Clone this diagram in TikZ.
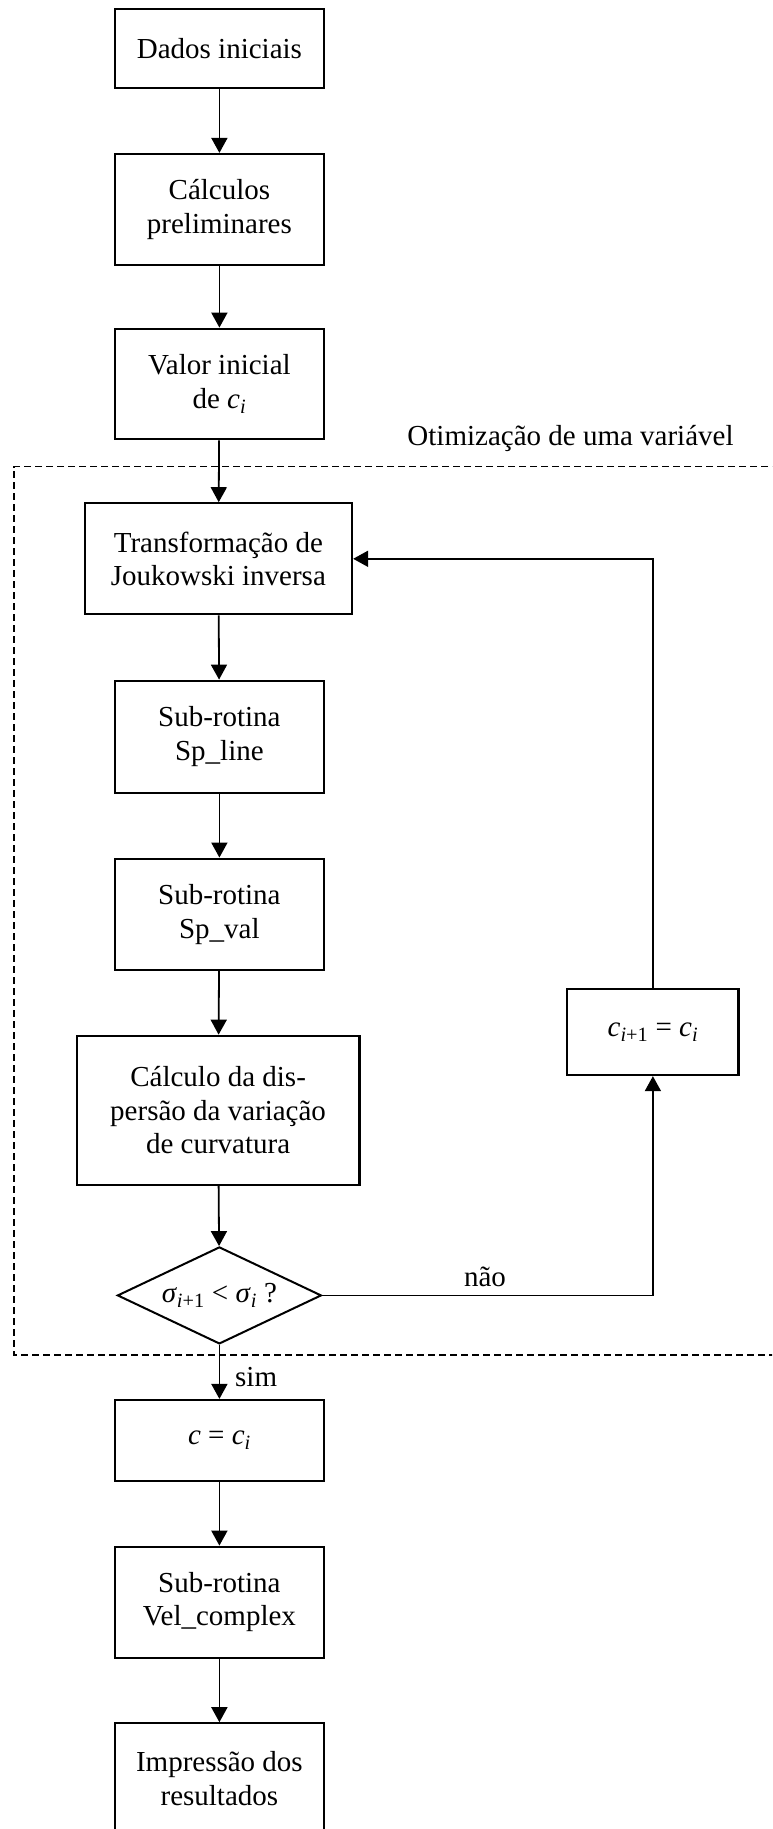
\documentclass[tikz,border=0pt]{standalone}
\usepackage{fontspec}
\setmainfont{Liberation Serif}
\usetikzlibrary{arrows.meta,shapes.geometric}
\tikzset{
  box/.style={draw, line width=2.2pt, minimum width=209pt, minimum height=111pt, align=center, inner sep=0pt},
  flow/.style={line width=1.8pt, -{Triangle[length=15pt,width=16pt]}},
  grp/.style={line width=1.5pt, dash pattern=on 7pt off 4pt},
  lbl/.style={inner sep=0pt}
}
\newcommand{\ci}{\textit{c}\textsubscript{\textit{i}}}
\begin{document}
\begin{tikzpicture}[x=1pt, y=-1pt, font=\fontsize{29}{33.5}\selectfont]
\useasboundingbox (0,0) rectangle (772,1829);
\clip (0,0) rectangle (772,1829);
% group frame
\draw[grp] (790,466.5) -- (13.8,466.5) -- (13.8,1355) -- (790,1355);
\node[lbl, anchor=base] (grplbl) at (570.5,445) {Otimização de uma variável};
% nodes
\node[box, minimum height=79pt] (dados) at (219.4,48.7) {Dados iniciais};
\node[box] (calc) at (219.4,209.5) {Cálculos\\preliminares};
\node[box, minimum height=110.6pt] (valor) at (219.4,384) {Valor inicial\\de \ci};
\node[box, minimum width=267.3pt] (trans) at (218.4,558.8) {Transformação de\\Joukowski inversa};
\node[box, minimum height=112pt] (spline) at (219.4,736.7) {Sub-rotina\\Sp\_line};
\node[box, minimum height=111.3pt] (spval) at (219.4,914.3) {Sub-rotina\\Sp\_val};
\node[box, minimum width=282.6pt, minimum height=149.3pt] (calcd) at (218.1,1110.4) {Cálculo da dis-\\persão da variação\\de curvatura};
\node[diamond, draw, line width=2pt, minimum width=204pt, minimum height=97pt, inner sep=0pt,
      label={center:{\textit{σ}\textsubscript{\textit{i}+1} < \textit{σ}\textsubscript{\textit{i}} ?}}] (dia) at (219.4,1295.4) {};
\node[box, minimum width=171.3pt, minimum height=86.3pt] (cbox) at (652.9,1031.9) {\textit{c}\textsubscript{\textit{i}+1} = \ci};
\node[box, minimum height=81pt] (cc) at (219.4,1440.5) {\textit{c} = \ci};
\node[box] (vel) at (219.4,1602.2) {Sub-rotina\\Vel\_complex};
\node[box] (imp) at (219.4,1778.8) {Impressão dos\\resultados};
% connectors
\draw[flow] (dados) -- (calc);
\draw[flow] (calc) -- (valor);
\draw[flow] (valor) -- (trans);
\draw[flow] (trans) -- (spline);
\draw[flow] (spline) -- (spval);
\draw[flow] (spval) -- (calcd);
\draw[flow] (calcd) -- (dia);
\draw[flow] (dia.east) -| (cbox.south);
\draw[flow] (cbox.north) |- (trans.east);
\draw[flow] (dia.south) -- (cc.north);
\draw[flow] (cc) -- (vel);
\draw[flow] (vel) -- (imp);
% labels
\node[lbl] (nao) at (485,1277) {não};
\node[lbl, anchor=west] (sim) at (235,1377) {sim};
\end{tikzpicture}
\end{document}
